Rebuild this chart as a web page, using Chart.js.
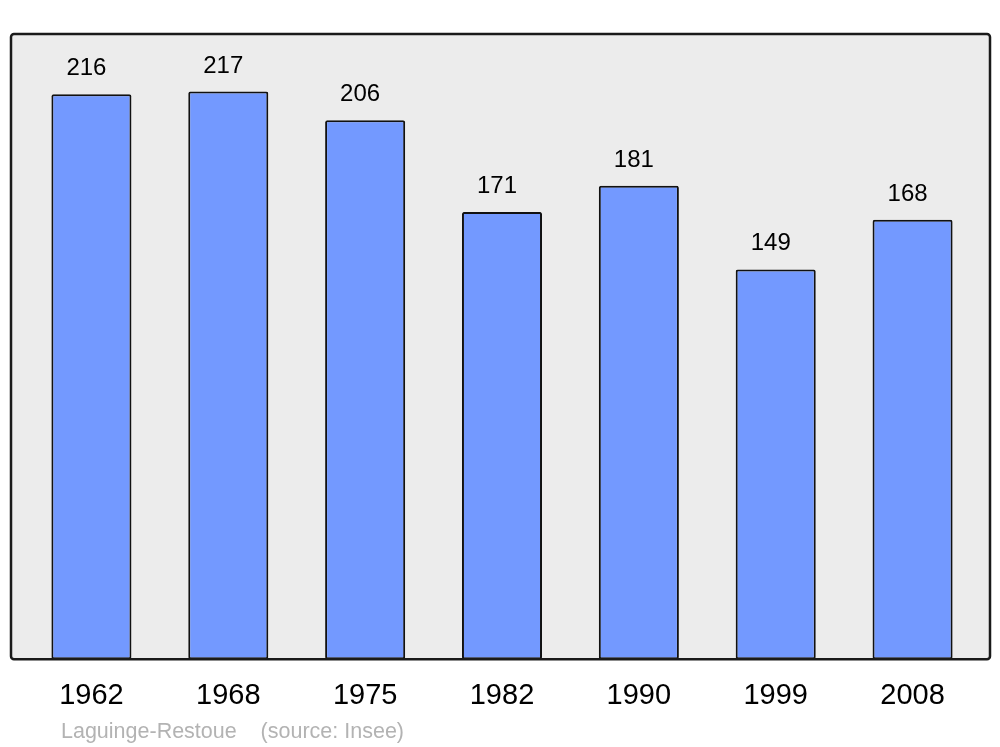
<!DOCTYPE html>
<html>
<head>
<meta charset="utf-8">
<script src="https://cdn.jsdelivr.net/npm/chart.js@4/dist/chart.umd.min.js"></script>
<style>
  html, body { margin: 0; padding: 0; background: #fff; }
  #wrap { width: 1000px; height: 747px; }
</style>
</head>
<body>
<div id="wrap"><canvas id="popChart" width="1000" height="747"></canvas></div>
<script>
// Population by census year
const years = ['1962', '1968', '1975', '1982', '1990', '1999', '2008'];
const population = [216, 217, 206, 171, 181, 149, 168];
const yMax = 239;
const footerText = 'Laguinge-Restoue    (source: Insee)';

// grey frame behind bars, dark border drawn over them
const framePlugin = {
    id: 'frame',
    beforeDatasetsDraw(chart) {
        const a = chart.chartArea;
        const ctx = chart.ctx;
        ctx.save();
        ctx.beginPath();
        ctx.roundRect(a.left - 12, a.top, a.right - a.left + 21, a.bottom - a.top, 3);
        ctx.fillStyle = '#ececec';
        ctx.fill();
        ctx.restore();
    },
    afterDatasetsDraw(chart) {
        const a = chart.chartArea;
        const ctx = chart.ctx;
        ctx.save();
        ctx.beginPath();
        ctx.roundRect(a.left - 12, a.top, a.right - a.left + 21, a.bottom - a.top, 3);
        ctx.lineWidth = 2.5;
        ctx.strokeStyle = '#1a1a1a';
        ctx.stroke();

        // value labels above each bar
        const meta = chart.getDatasetMeta(0);
        ctx.font = '24px "Liberation Sans", Arial, sans-serif';
        ctx.fillStyle = '#000';
        ctx.textAlign = 'center';
        ctx.textBaseline = 'alphabetic';
        meta.data.forEach((bar, i) => {
            ctx.fillText(String(population[i]), bar.x - 5, bar.y - 19);
        });

        // footer
        ctx.font = '21.5px "Liberation Sans", Arial, sans-serif';
        ctx.fillStyle = '#b3b3b3';
        ctx.textAlign = 'left';
        ctx.fillText(footerText, 61, 738);
        ctx.restore();
    }
};

const ctx = document.getElementById('popChart').getContext('2d');
const popChart = new Chart(ctx, {
    type: 'bar',
    data: {
        labels: years,
        datasets: [{
            data: population,
            backgroundColor: '#7399ff',
            borderColor: '#111',
            borderWidth: 2,
            borderRadius: 2,
            borderSkipped: false,
            categoryPercentage: 1,
            barPercentage: 0.585
        }]
    },
    options: {
        responsive: false,
        animation: false,
        layout: {
            padding: { top: 34, left: 23, right: 19, bottom: 15 }
        },
        plugins: {
            legend: { display: false },
            tooltip: { enabled: false }
        },
        scales: {
            y: {
                display: false,
                min: 0,
                max: yMax
            },
            x: {
                grid: { display: false, drawTicks: false },
                border: { display: false },
                ticks: {
                    color: '#000',
                    padding: 19,
                    font: { size: 29, family: '"Liberation Sans", Arial, sans-serif' }
                }
            }
        }
    },
    plugins: [framePlugin]
});
</script>
</body>
</html>
